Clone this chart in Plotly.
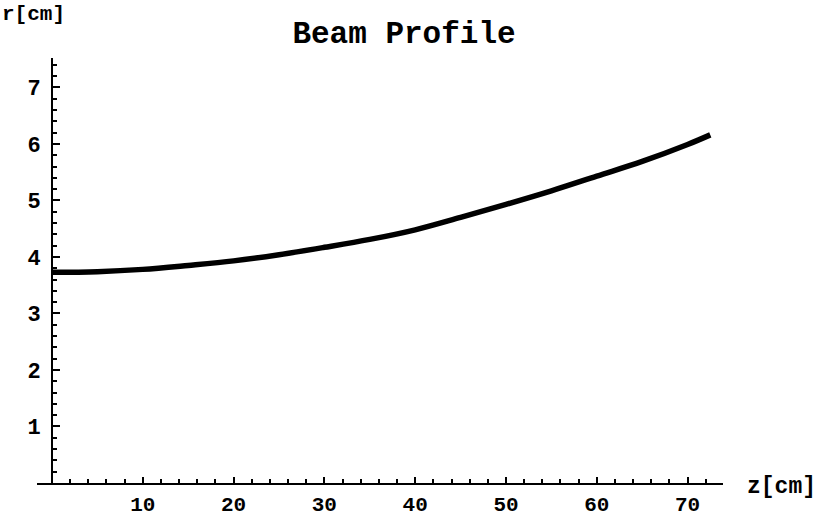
import plotly.graph_objects as go

# Data
z_cm = [0, 5, 10, 15, 20, 25, 30, 35, 40, 45, 50, 55, 60, 65, 70, 72.5]
r_cm = [3.73, 3.74, 3.78, 3.85, 3.93, 4.04, 4.17, 4.31, 4.48, 4.70, 4.93, 5.17, 5.43, 5.69, 5.99, 6.16]

x_ticks = [10, 20, 30, 40, 50, 60, 70]
y_ticks = [1, 2, 3, 4, 5, 6, 7]
x_range = [-1.65, 73.9]
y_range = [0, 7.52]

title_text = "Beam Profile"
x_label = "z[cm]"
y_label = "r[cm]"

FONT = "Liberation Mono"
BLACK = "#000000"

# y axis crosses the x axis at z = 0
yaxis_pos = (0 - x_range[0]) / (x_range[1] - x_range[0])

fig = go.Figure()
fig.add_trace(go.Scatter(
    x=z_cm, y=r_cm, mode="lines",
    line=dict(color=BLACK, width=5.5, shape="spline"),
    showlegend=False, hoverinfo="skip",
))

fig.update_layout(
    width=830, height=519,
    margin=dict(l=37, r=107, t=58, b=36, autoexpand=False),
    paper_bgcolor="white", plot_bgcolor="white",
    font=dict(family=FONT, color=BLACK, size=20),
    title=dict(text="<b>" + title_text + "</b>", x=404 / 830, xref="container", xanchor="center",
               y=1 - 32 / 519, yref="container", yanchor="middle",
               font=dict(family=FONT, size=31, color=BLACK)),
    xaxis=dict(
        range=x_range, showgrid=False, zeroline=False, automargin=False,
        showline=True, linecolor=BLACK, linewidth=2,
        tickvals=x_ticks, ticktext=["<b>%d</b>" % v for v in x_ticks],
        ticks="inside", ticklen=6, tickwidth=2, tickcolor=BLACK,
        ticklabelstandoff=1,
        tickfont=dict(family=FONT, size=21, color=BLACK),
        minor=dict(dtick=2, tick0=0, ticks="inside", ticklen=4, tickwidth=1.5, tickcolor=BLACK),
    ),
    yaxis=dict(
        range=y_range, showgrid=False, zeroline=False, automargin=False,
        anchor="free", position=yaxis_pos,
        showline=True, linecolor=BLACK, linewidth=2,
        tickvals=y_ticks, ticktext=["<b>%d</b>" % v for v in y_ticks],
        ticks="inside", ticklen=7, tickwidth=2, tickcolor=BLACK,
        ticklabelstandoff=6,
        tickfont=dict(family=FONT, size=22, color=BLACK),
        minor=dict(dtick=0.2, tick0=0, ticks="inside", ticklen=4, tickwidth=1.5, tickcolor=BLACK),
    ),
    annotations=[
        dict(text="<b>" + x_label + "</b>", xref="paper", yref="paper", x=1, y=0,
             xanchor="left", yanchor="middle", xshift=22, yshift=-4, showarrow=False,
             font=dict(family=FONT, size=23, color=BLACK)),
        dict(text="<b>" + y_label + "</b>", xref="paper", yref="paper", x=yaxis_pos, y=1,
             xanchor="center", yanchor="middle", xshift=-18, yshift=44, showarrow=False,
             font=dict(family=FONT, size=21, color=BLACK)),
    ],
)

fig.write_html("out.html", config={"displayModeBar": False},
               post_script="document.body.style.margin='0';document.body.style.overflow='hidden';")
